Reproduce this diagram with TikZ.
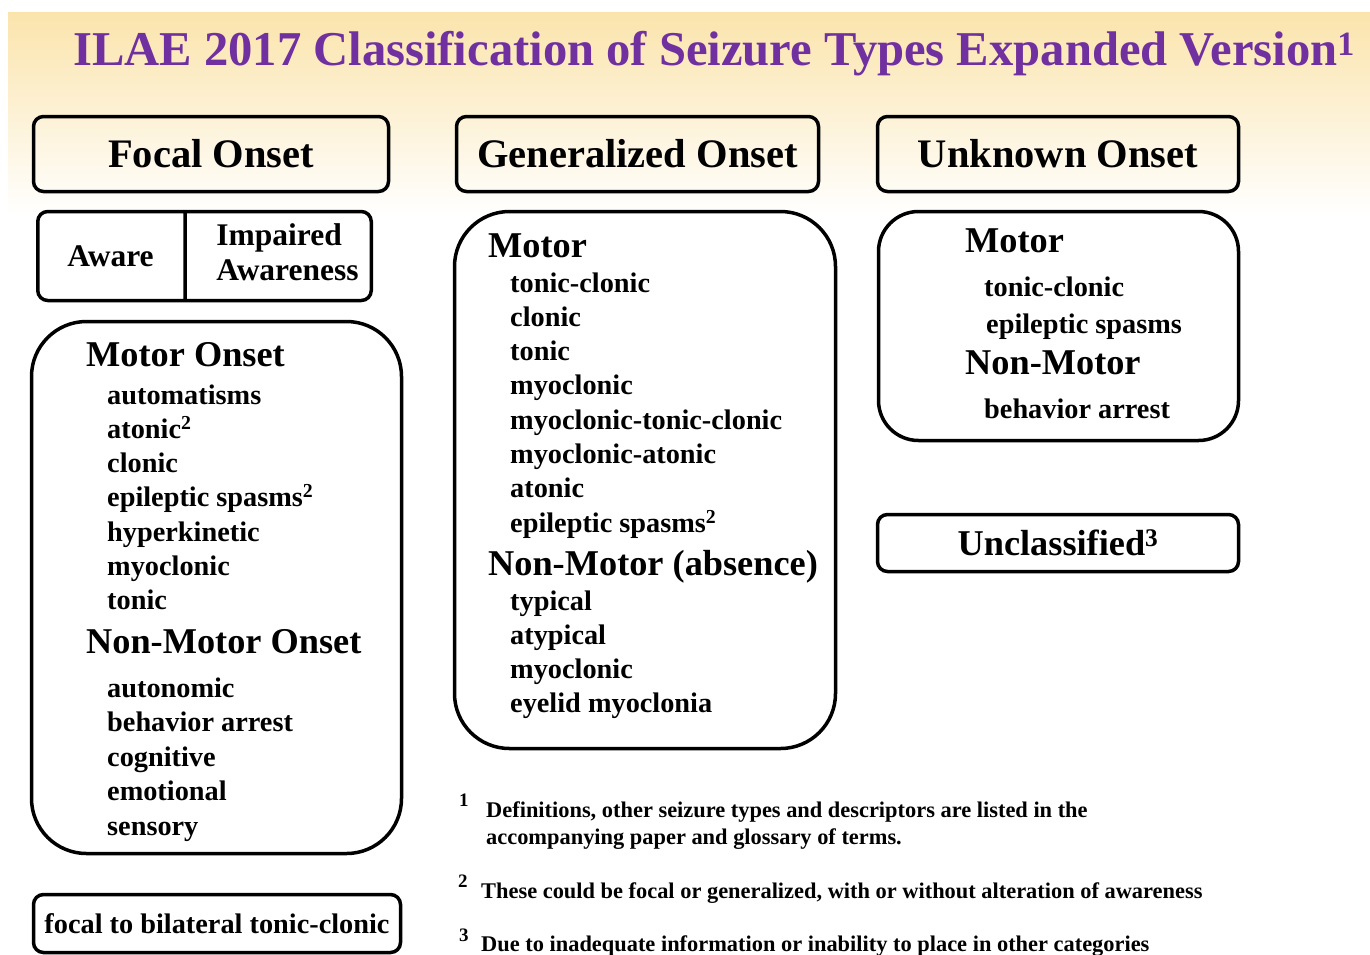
\documentclass[tikz,border=0pt]{standalone}
\usepackage{fontspec}
\setmainfont{Liberation Serif}
\usetikzlibrary{positioning,shapes.multipart}

\definecolor{ttlpurple}{RGB}{112,48,160}
\definecolor{bgtop}{RGB}{251,228,172}
\newcommand{\fsz}[2]{\fontsize{#1}{#2}\selectfont\bfseries}

\tikzset{
  box/.style={draw, line width=3.5pt, rounded corners=10pt, inner sep=0pt},
  bigbox/.style={box, rounded corners=55pt},
  hdr/.style={font=\fsz{40.5}{48}},
  sub/.style={anchor=base west, inner sep=0pt, font=\fsz{36.3}{42}},
  item/.style={anchor=base west, inner sep=0pt, font=\fsz{28.3}{34}},
  note/.style={anchor=base west, inner sep=0pt, font=\fsz{22.4}{27}},
  notenum/.style={anchor=base west, inner sep=0pt, font=\fsz{19}{22}}
}

\begin{document}
\begin{tikzpicture}[x=1pt, y=-1pt]
  \useasboundingbox (0,0) rectangle (1370,954);
  \fill[white] (0,0) rectangle (1370,954);
  \fill[top color=bgtop, bottom color=white] (8,12) rectangle (1370,215);

  \node [anchor=base west, inner sep=0pt, text=ttlpurple, font=\fsz{48.6}{58}] (ttl) at (73,65)
      {ILAE 2017 Classification of Seizure Types Expanded Version\textsuperscript{1}};

  % column heads
  \node [box, hdr, minimum width=355, minimum height=75] (focal) at (211,154) {Focal Onset};
  \node [box, hdr, minimum width=362, minimum height=75] (gen) at (637.5,154) {Generalized Onset};
  \node [box, hdr, minimum width=361, minimum height=75] (unk) at (1058,154) {Unknown Onset};

  % focal
  \node [box, rectangle split, rectangle split parts=2, rectangle split horizontal,
         inner xsep=8pt, minimum height=89, align=center, font=\fsz{31.5}{35}] (aware) at (204.5,256)
      {\nodepart[text width=129.5pt]{one}Aware
       \nodepart[text width=168.5pt]{two}\hspace*{17pt}\begin{tabular}{@{}l@{}}Impaired\\Awareness\end{tabular}};

  \node [bigbox, minimum width=370, minimum height=532] (fbox) at (216.5,587.5) {};
  \node [sub] (fmot) at (86,366) {Motor Onset};
  \foreach \txt [count=\i from 0] in {automatisms, atonic\textsuperscript{2}, clonic,
      epileptic spasms\textsuperscript{2}, hyperkinetic, myoclonic, tonic}
    \node [item] (fm\i) at (107,404+34.3*\i) {\txt};
  \node [sub] (fnon) at (86,653) {Non-Motor Onset};
  \foreach \txt [count=\i from 0] in {autonomic, behavior arrest, cognitive, emotional, sensory}
    \node [item] (fn\i) at (107,697+34.5*\i) {\txt};

  \node [box, font=\fsz{28.3}{34}, minimum width=367, minimum height=58] (bilat) at (217,923.5)
      {focal to bilateral tonic-clonic};

  % generalized
  \node [bigbox, minimum width=381, minimum height=537] (gbox) at (645,480) {};
  \node [sub] (gmot) at (488,257) {Motor};
  \foreach \txt [count=\i from 0] in {tonic-clonic, clonic, tonic, myoclonic, myoclonic-tonic-clonic,
      myoclonic-atonic, atonic, epileptic spasms\textsuperscript{2}}
    \node [item] (gm\i) at (510,292+34.3*\i) {\txt};
  \node [sub] (gnon) at (488,575) {Non-Motor (absence)};
  \foreach \txt [count=\i from 0] in {typical, atypical, myoclonic, eyelid myoclonia}
    \node [item] (gn\i) at (510,610+34.3*\i) {\txt};

  % unknown
  \node [box, rounded corners=40pt, minimum width=360, minimum height=229] (ubox) at (1058.5,326) {};
  \node [sub] (umot) at (965,252) {Motor};
  \node [item] (um0) at (984,296) {tonic-clonic};
  \node [item] (um1) at (986,333) {epileptic spasms};
  \node [sub] (unon) at (965,374) {Non-Motor};
  \node [item] (un0) at (984,418) {behavior arrest};

  \node [box, font=\fsz{36.3}{42}, minimum width=361, minimum height=57] (uncl) at (1058,543)
      {Unclassified\textsuperscript{3}};

  % footnotes
  \node [notenum] (n1) at (459,806) {1};
  \node [note] (f1a) at (486,817) {Definitions, other seizure types and descriptors are listed in the};
  \node [note] (f1b) at (486,844) {accompanying paper and glossary of terms.};
  \node [notenum] (n2) at (458,887) {2};
  \node [note] (f2) at (481,898) {These could be focal or generalized, with or without alteration of awareness};
  \node [notenum] (n3) at (459,941) {3};
  \node [note] (f3) at (481,951) {Due to inadequate information or inability to place in other categories};
\end{tikzpicture}
\end{document}
